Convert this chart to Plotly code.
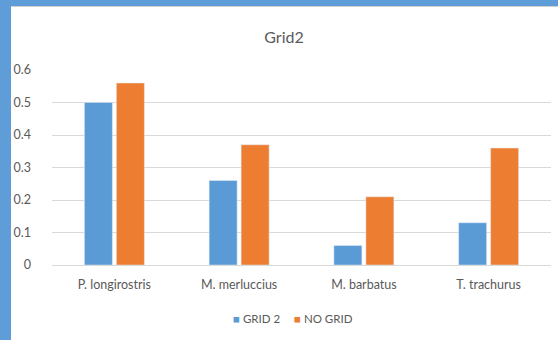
import plotly.graph_objects as go

species = ["P. longirostris", "M. merluccius", "M. barbatus", "T. trachurus"]
grid2 = [0.50, 0.26, 0.06, 0.13]
no_grid = [0.56, 0.37, 0.21, 0.36]
y_ticks = [0, 0.1, 0.2, 0.3, 0.4, 0.5, 0.6]
series_names = ["GRID 2", "NO GRID"]
series_colors = ["#5B9BD5", "#ED7D31"]

W, H = 558, 340
ML, MR, MT, MB = 52, 7, 70, 75
pw, ph = W - ML - MR, H - MT - MB


def px_x(x):
    return (x - ML) / pw


def px_y(y):
    return (H - MB - y) / ph


fig = go.Figure()
for name, vals, col in zip(series_names, [grid2, no_grid], series_colors):
    fig.add_trace(go.Bar(name=name, x=species, y=vals, marker_color=col, showlegend=False))

# white chart card over the blue slide background
fig.add_shape(type="rect", xref="paper", yref="paper",
              x0=px_x(11), x1=px_x(W + 2), y0=px_y(H + 2), y1=px_y(6),
              fillcolor="white", line=dict(width=0), layer="below")
fig.add_shape(type="line", xref="paper", yref="paper",
              x0=px_x(11), x1=px_x(W + 2), y0=px_y(6.5), y1=px_y(6.5),
              line=dict(color="#D0D0D0", width=1), layer="below")

# compact legend: coloured square + series name
legend_x = [231, 292]
for lx, name, col in zip(legend_x, series_names, series_colors):
    fig.add_annotation(xref="paper", yref="paper", x=px_x(lx), y=px_y(318),
                       xanchor="left", yanchor="middle", showarrow=False,
                       text=f"<span style='color:{col}'>■</span> {name}",
                       font=dict(size=11.5, color="#595959"))

fig.update_layout(
    width=W, height=H,
    margin=dict(l=ML, r=MR, t=MT, b=MB),
    paper_bgcolor="#5E9DD8",
    plot_bgcolor="rgba(0,0,0,0)",
    font=dict(family="Lato, sans-serif", color="#595959", size=10),
    title=dict(text="Grid2", x=284 / W, xanchor="center", y=1 - 37 / H, yanchor="middle",
               font=dict(size=16, color="#595959")),
    barmode="group", bargap=0.487, bargroupgap=0.125,
    showlegend=False,
    xaxis=dict(showgrid=False, showline=False, ticks="", ticklabelstandoff=10,
               tickfont=dict(size=12.5, color="#595959")),
    yaxis=dict(range=[0, 0.6], tickvals=y_ticks, ticktext=[f"{v:g}" for v in y_ticks],
               showgrid=True, gridcolor="#D9D9D9", gridwidth=1, zeroline=True,
               zerolinecolor="#D9D9D9", zerolinewidth=1, showline=False, ticks="",
               ticklabelstandoff=20, tickfont=dict(size=12.5, color="#595959")),
)

fig.write_html("out.html")
